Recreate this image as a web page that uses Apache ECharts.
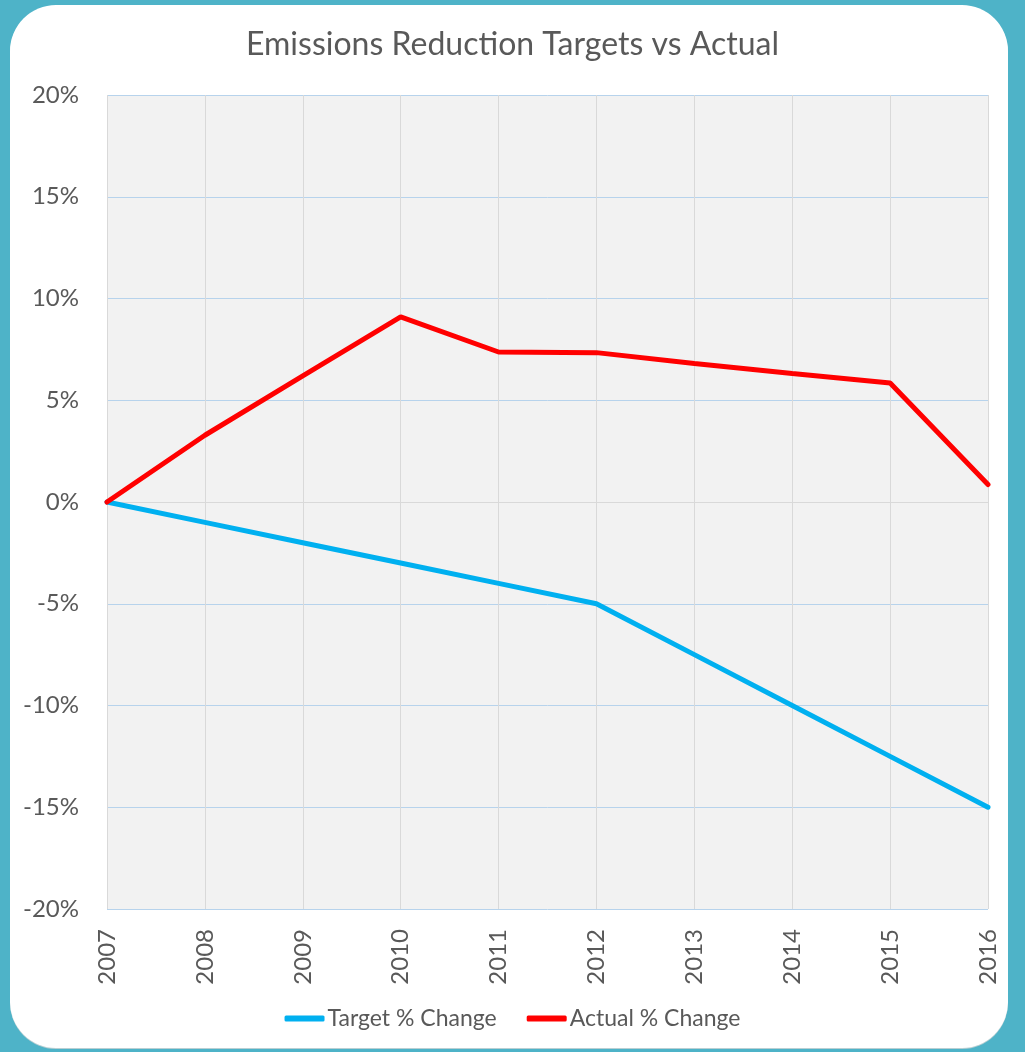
<!DOCTYPE html>
<html>
<head>
<meta charset="utf-8">
<script src="https://cdn.jsdelivr.net/npm/echarts@6/dist/echarts.min.js"></script>
<style>
html,body{margin:0;padding:0;width:1025px;height:1052px;background:#4eb3c8;overflow:hidden;}
#card{position:absolute;left:10px;top:5px;width:998px;height:1043px;background:#fff;border-radius:46px;box-shadow:0 1px 0 #b9cfd3;}
#chart{position:absolute;left:0;top:0;width:1025px;height:1052px;}
</style>
</head>
<body>
<div id="card"></div>
<div id="chart"></div>
<script>
var years = ['2007','2008','2009','2010','2011','2012','2013','2014','2015','2016'];
var targetChange = [0, -1, -2, -3, -4, -5, -7.5, -10, -12.5, -15];
var actualChange = [0, 3.28, 6.2, 9.1, 7.37, 7.34, 6.81, 6.32, 5.85, 0.86];
var yTicks = [-20, -15, -10, -5, 0, 5, 10, 15, 20];

var chart = echarts.init(document.getElementById('chart'), null, {renderer:'canvas'});
var font = 'Lato, "Open Sans", sans-serif';
chart.setOption({
  backgroundColor: 'transparent',
  animation: false,
  title: {
    text: 'Emissions Reduction Targets vs Actual',
    left: 'center', top: 24,
    textStyle: {fontFamily: font, fontSize: 32, fontWeight: 'normal', color: '#595959'}
  },
  legend: {
    bottom: 17, left: 'center',
    itemWidth: 40, itemHeight: 6, itemGap: 30,
    icon: 'roundRect',
    textStyle: {fontFamily: font, fontSize: 23, color: '#595959', padding: [0,0,0,-2]},
    data: ['Target % Change', 'Actual % Change']
  },
  grid: {left: 107, right: 37, top: 95, bottom: 143, containLabel: false,
         show: true, backgroundColor: '#f2f2f2', borderWidth: 0},
  xAxis: {
    type: 'category', data: years, boundaryGap: false,
    axisLine: {show: true, lineStyle: {color: '#d9d9d9', width: 1}},
    axisTick: {show: false},
    axisLabel: {rotate: 90, fontFamily: font, fontSize: 24, color: '#595959', margin: 20},
    splitLine: {show: true, lineStyle: {color: '#d9d9d9', width: 1}}
  },
  yAxis: {
    type: 'value', min: yTicks[0], max: yTicks[yTicks.length-1], interval: 5,
    axisLine: {show: false}, axisTick: {show: false},
    axisLabel: {formatter: '{value}%', fontFamily: font, fontSize: 24, color: '#595959', margin: 28},
    splitLine: {show: true, lineStyle: {color: '#b7d3ec', width: 1}}
  },
  series: [
    {name: 'Target % Change', type: 'line', data: targetChange, symbol: 'none',
     lineStyle: {color: '#00b0f0', width: 5, cap: 'round'}, itemStyle: {color: '#00b0f0'}},
    {name: 'Actual % Change', type: 'line', data: actualChange, symbol: 'none',
     lineStyle: {color: '#ff0000', width: 5, cap: 'round'}, itemStyle: {color: '#ff0000'}}
  ]
});
</script>
</body>
</html>
